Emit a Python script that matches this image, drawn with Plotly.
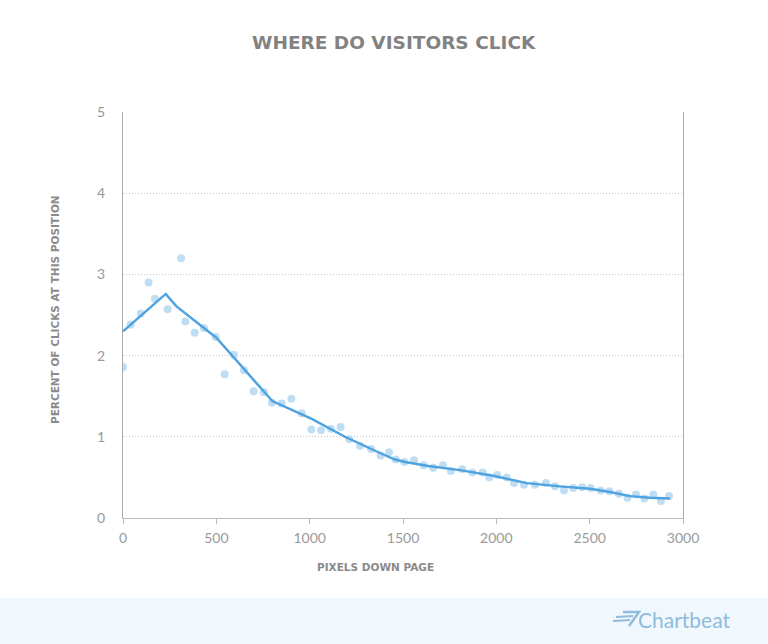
import plotly.graph_objects as go

# scatter observations (pixels down page, percent of clicks)
pixels = [0, 41, 95, 137, 171, 239, 311, 334, 384, 434, 497, 545, 594, 648, 700, 755, 798, 850,
          902, 957, 1009, 1061, 1114, 1166, 1212, 1270, 1329, 1380, 1425, 1461, 1507, 1559, 1611,
          1662, 1714, 1757, 1817, 1871, 1927, 1962, 2005, 2055, 2095, 2148, 2207, 2266, 2314, 2362,
          2412, 2460, 2505, 2559, 2605, 2657, 2702, 2748, 2793, 2841, 2882, 2925]
clicks = [1.86, 2.38, 2.52, 2.90, 2.70, 2.57, 3.20, 2.42, 2.28, 2.34, 2.23, 1.77, 2.01, 1.82, 1.56,
          1.55, 1.42, 1.41, 1.47, 1.29, 1.09, 1.08, 1.10, 1.12, 0.97, 0.89, 0.85, 0.77, 0.81, 0.72,
          0.69, 0.71, 0.65, 0.62, 0.65, 0.58, 0.60, 0.56, 0.56, 0.50, 0.53, 0.50, 0.43, 0.41, 0.41,
          0.43, 0.39, 0.34, 0.37, 0.38, 0.37, 0.34, 0.33, 0.30, 0.25, 0.29, 0.24, 0.29, 0.21, 0.27]

# fitted trend line
trend_x = [0, 229, 285, 500, 800, 1011, 1189, 1270, 1368, 1457, 1511, 1636, 1805, 1984, 2163,
           2341, 2502, 2609, 2716, 2823, 2930]
trend_y = [2.30, 2.76, 2.61, 2.22, 1.44, 1.22, 1.00, 0.91, 0.81, 0.72, 0.69, 0.64, 0.59, 0.52,
           0.43, 0.39, 0.36, 0.32, 0.27, 0.25, 0.24]

x_ticks = [0, 500, 1000, 1500, 2000, 2500, 3000]
y_ticks = [0, 1, 2, 3, 4, 5]

W, H = 768, 644
L, R, T, B = 123, 85, 112, 126
PW, PH = W - L - R, H - T - B


def px(x):
    return (x - L) / PW


def py(y):
    return (H - B - y) / PH


LOGO = "#8fbcdb"

fig = go.Figure()
fig.add_trace(go.Scatter(x=pixels, y=clicks, mode="markers",
                         marker=dict(size=8, color="#bfdef4"), hoverinfo="x+y",
                         showlegend=False))
fig.add_trace(go.Scatter(x=trend_x, y=trend_y, mode="lines",
                         line=dict(color="#4ea3df", width=2.4), showlegend=False))

fig.update_layout(
    width=W, height=H,
    margin=dict(l=L, r=R, t=T, b=B),
    paper_bgcolor="white", plot_bgcolor="white",
    font=dict(family="Lato", color="#999999"),
    xaxis=dict(range=[0, 3000], tickvals=x_ticks, showgrid=False, zeroline=False,
               showline=True, linecolor="#bbbbbb", linewidth=1, ticks="outside",
               ticklen=5, tickcolor="#bbbbbb", tickfont=dict(size=14, color="#999999"),
               ticklabelstandoff=2),
    yaxis=dict(range=[0, 5], tickvals=y_ticks, showgrid=True, gridcolor="#c4c4c4",
               griddash="1px,2px", gridwidth=1, zeroline=False, showline=True, mirror=True,
               linecolor="#aaaaaa", linewidth=1, ticks="",
               tickfont=dict(size=14, color="#999999"), ticklabelstandoff=14),
    shapes=[
        dict(type="rect", xref="paper", yref="paper", x0=px(-5), x1=px(W + 5),
             y0=py(598), y1=py(H + 5), fillcolor="#f0f8fe", line=dict(width=0), layer="below"),
        # Chartbeat logo mark
        dict(type="path", xref="paper", yref="paper",
             path=f"M {px(623)} {py(612)} L {px(639)} {py(612)} L {px(629)} {py(626)}",
             line=dict(color=LOGO, width=2.5)),
        dict(type="line", xref="paper", yref="paper", x0=px(616), x1=px(633), y0=py(617), y1=py(616),
             line=dict(color=LOGO, width=2)),
        dict(type="line", xref="paper", yref="paper", x0=px(613), x1=px(630), y0=py(621), y1=py(620),
             line=dict(color=LOGO, width=2)),
    ],
    annotations=[
        dict(text="<b>WHERE DO VISITORS CLICK</b>", xref="paper", yref="paper",
             x=px(394), y=py(43), xanchor="center", yanchor="middle", showarrow=False,
             font=dict(family="DejaVu Sans", size=18.5, color="#828282")),
        dict(text="<b>PERCENT OF CLICKS AT THIS POSITION</b>", xref="paper", yref="paper",
             x=px(55), y=py(310), xanchor="center", yanchor="middle", textangle=-90,
             showarrow=False, font=dict(family="DejaVu Sans", size=10.5, color="#8a8a8a")),
        dict(text="<b>PIXELS DOWN PAGE</b>", xref="paper", yref="paper",
             x=px(375), y=py(567), xanchor="center", yanchor="middle", showarrow=False,
             font=dict(family="DejaVu Sans", size=10.5, color="#8a8a8a")),
        dict(text="Chartbeat", xref="paper", yref="paper", x=px(684), y=py(619),
             xanchor="center", yanchor="middle",
             showarrow=False, font=dict(family="Lato", size=21, color=LOGO)),
    ],
)

fig.write_html("out.html", config={"displayModeBar": False},
               post_script="document.body.style.margin='0px';")
